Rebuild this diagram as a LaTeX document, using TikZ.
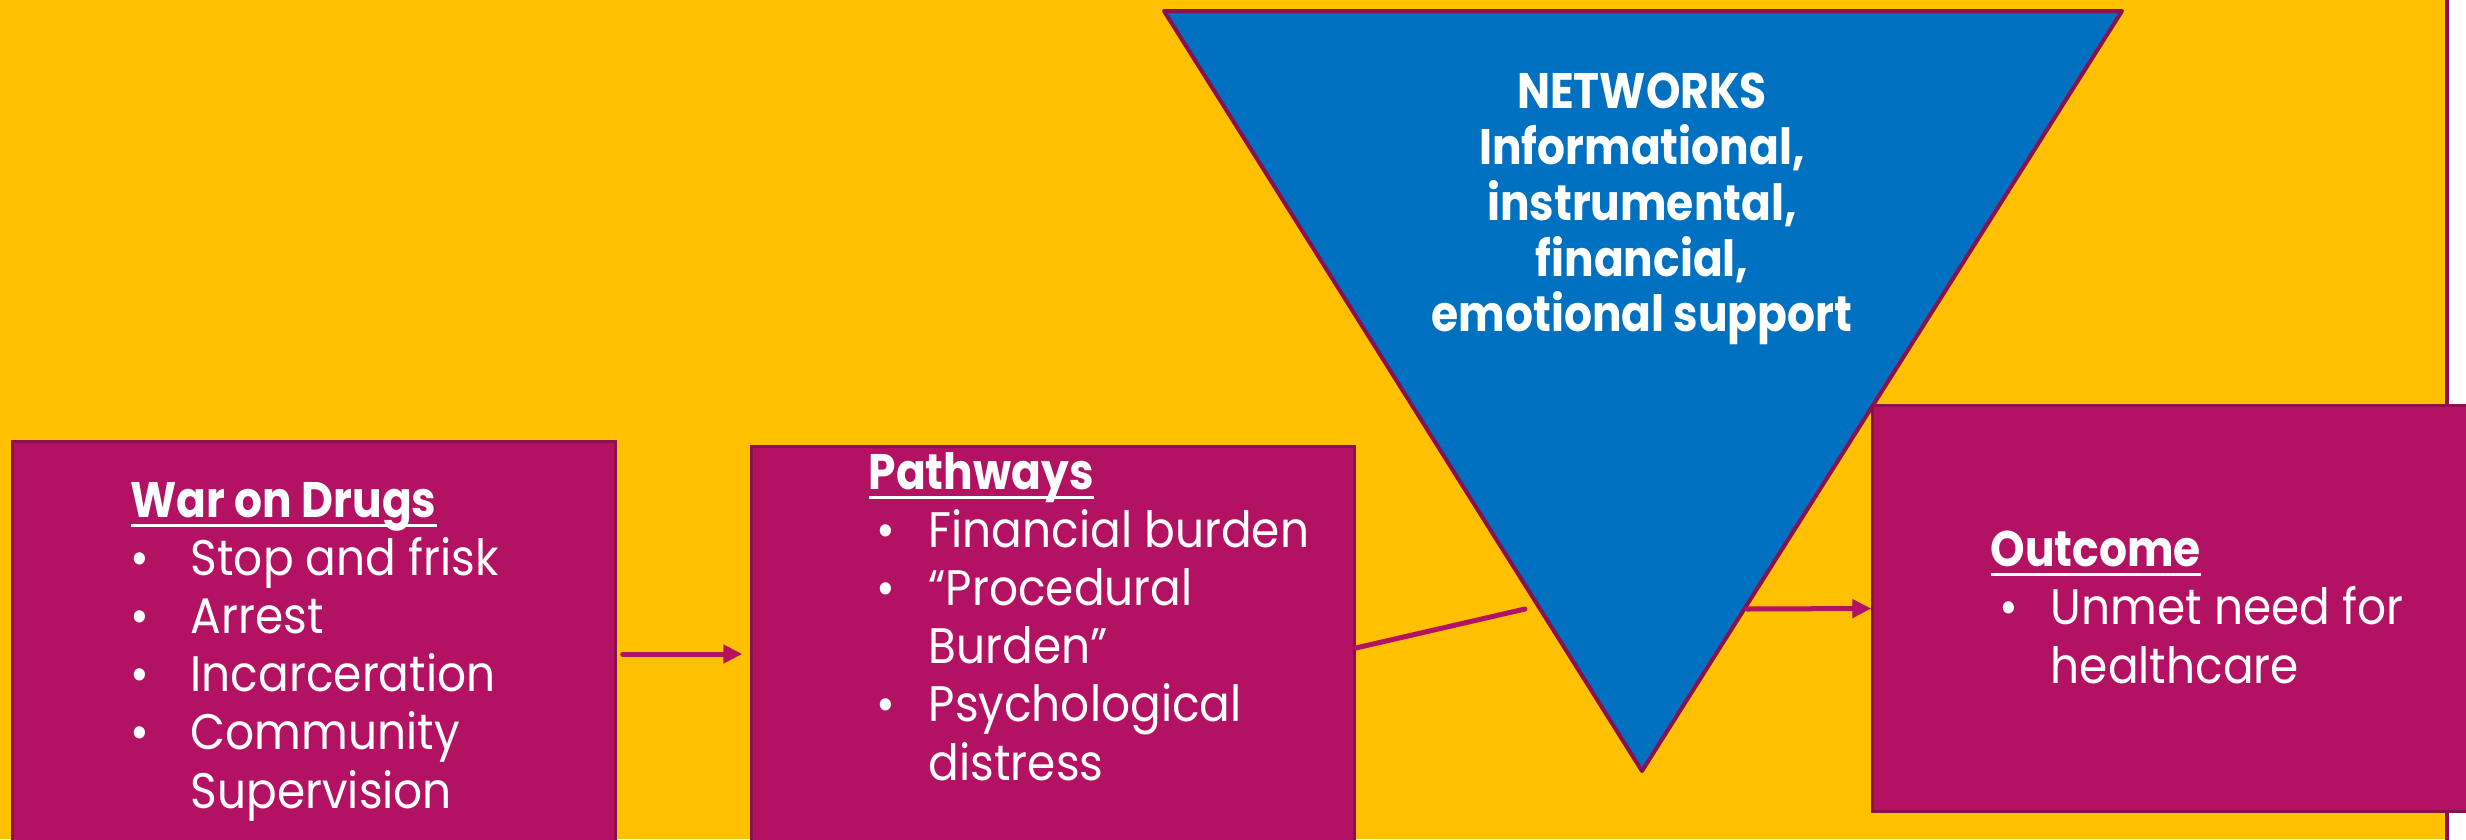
\documentclass[tikz,border=0pt]{standalone}
\usepackage{fontspec}
\setmainfont{Poppins}[FakeStretch=0.91, BoldFeatures={FakeStretch=0.88}]
\usetikzlibrary{arrows.meta,calc}

\definecolor{bgyellow}{HTML}{FFC000}
\definecolor{boxmag}{HTML}{B31262}
\definecolor{edgemag}{HTML}{8A1150}
\definecolor{netblue}{HTML}{0070C0}

% underlined bold heading
\newcommand\hdg[1]{\sbox0{\bfseries #1}\usebox0\llap{\rule[-0.09cm]{\wd0}{0.03cm}}}
% bullet line and its continuation
\newcommand\bitem[2][0cm]{\makebox[0.6cm][l]{\hspace{#1}\textbullet}#2}
\newcommand\bcont[1]{\hspace{0.6cm}#1}

\begin{document}
\begin{tikzpicture}[x=0.01cm,y=-0.01cm,
  panel/.style={draw=edgemag, fill=boxmag, line width=0.03cm, inner sep=0pt},
  body/.style={text=white, align=left, inner sep=0pt, font=\fontsize{14.2}{16.5}\selectfont},
  nettext/.style={text=white, align=center, inner sep=0pt, font=\fontsize{14.2}{15.9}\selectfont\bfseries},
  conn/.style={draw=boxmag, line width=0.05cm, line cap=round},
  tip/.style={-{Triangle[length=0.19cm,width=0.18cm]}}]
\useasboundingbox (0,0) rectangle (2466,839);
\clip (0,0) rectangle (2466,839);

% backdrop
\fill[white] (0,0) rectangle (2466,839);
\fill[bgyellow] (0,0) rectangle (2447,839);
\draw[edgemag, line width=0.04cm] (2447,-10) -- (2447,850);

% boxes
\node[panel, minimum width=6.02cm, minimum height=4.24cm] (wod) at (314,654) {};
\node[panel, minimum width=6.02cm, minimum height=4.14cm] (path) at (1053,654) {};
\node[panel, minimum width=6.07cm, minimum height=4.05cm] (outc) at (2176.5,608.5) {};

% networks triangle
\coordinate (netTL) at (1164,11);
\coordinate (netTR) at (2122,11);
\coordinate (netB) at (1642,771);
\draw[fill=netblue, draw=edgemag, line width=0.04cm, line join=round] (netTL) -- (netTR) -- (netB) -- cycle;
\coordinate (netIn) at (1525,609);
\coordinate (netOut) at (1747,609);

% texts (base anchor sits on the last line)
\node[body, anchor=base west] (wodtxt) at (130,808) {%
  \hdg{War on Drugs}\\
  \bitem{Stop and frisk}\\
  \bitem{Arrest}\\
  \bitem{Incarceration}\\
  \bitem{Community}\\
  \bcont{Supervision}};
\node[body, anchor=base west] (pathtxt) at (868,780) {%
  \hdg{Pathways}\\
  \bitem[0.08cm]{Financial burden}\\
  \bitem[0.08cm]{“Procedural}\\
  \bcont{Burden”}\\
  \bitem[0.08cm]{Psychological}\\
  \bcont{distress}};
\node[body, anchor=base west] (outtxt) at (1990,683) {%
  \hdg{Outcome}\\
  \bitem[0.09cm]{Unmet need for}\\
  \bcont{healthcare}};
\node[nettext] (nettxt) at (1642,209) {NETWORKS\\Informational,\\instrumental,\\financial,\\emotional support};

% connectors
\draw[conn, tip] ([xshift=0.06cm]wod.east) -- ([xshift=-0.08cm]path.west);
\draw[conn] ([yshift=1.7pt]path.east) -- (netIn);
\draw[conn, tip] (netOut) -- (outc.west);
\end{tikzpicture}
\end{document}
